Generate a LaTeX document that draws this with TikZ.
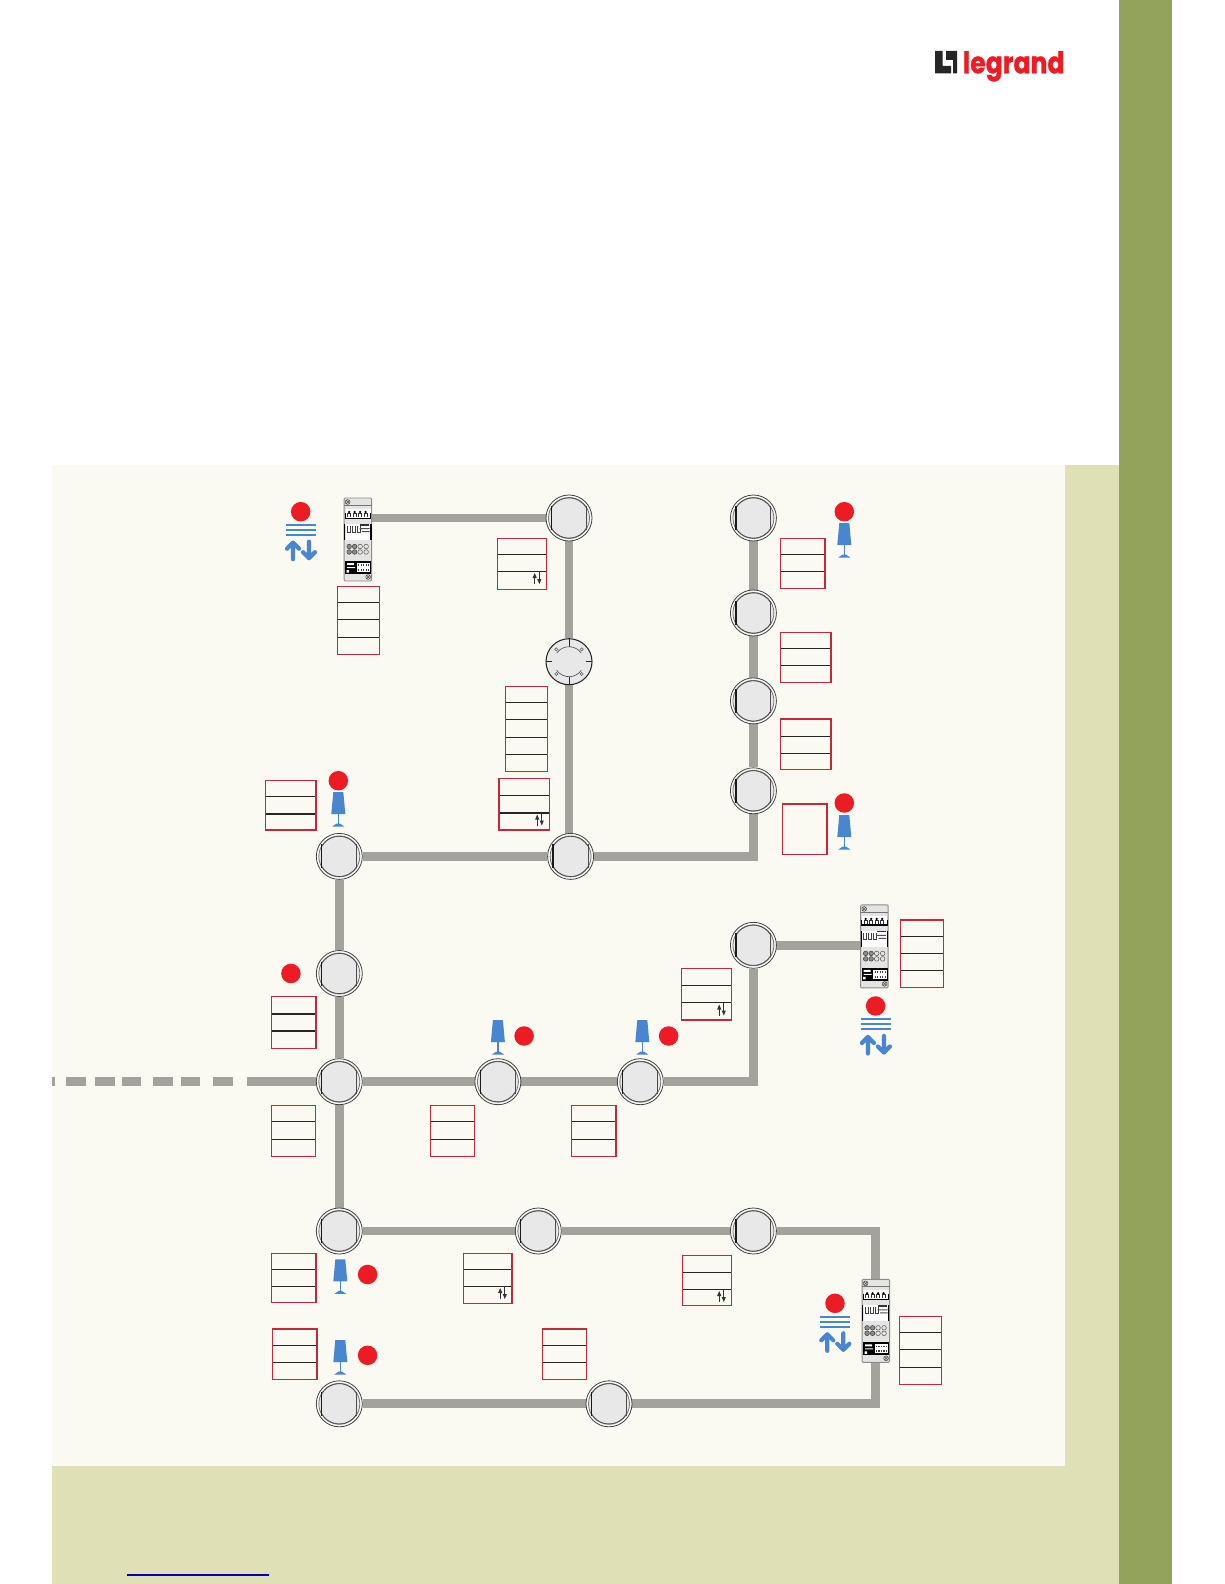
\documentclass[tikz,border=0pt]{standalone}
\usepackage{fontspec}
\newfontfamily\logofont[BoldFeatures={FakeBold=1.2}]{Poppins}
\usetikzlibrary{fit,backgrounds,arrows.meta}
\definecolor{cream}{HTML}{FAF9F2}
\definecolor{palegreen}{HTML}{DFE0B6}
\definecolor{darkgreen}{HTML}{93A35C}
\definecolor{wire}{HTML}{A3A29C}
\definecolor{reddot}{HTML}{ED1C24}
\definecolor{iconblue}{HTML}{4A86D0}
\definecolor{boxred}{HTML}{C4283A}
\definecolor{devfill}{HTML}{E4E4E2}
\definecolor{knob}{HTML}{E8E8E8}
\tikzset{
  x=0.02cm,y=-0.02cm,
  wireline/.style={draw=wire,line width=5.1pt,line join=miter},
  swnode/.style={circle,draw=none,inner sep=0pt,minimum size=0.92cm},
  devnode/.style={rectangle,draw=none,inner sep=0pt,minimum width=0.55cm,minimum height=1.66cm},
  redbox/.style={rectangle,draw=boxred,line width=0.7pt,inner sep=0pt},
  divider/.style={draw=black!85,line width=0.6pt},
  dotnode/.style={circle,fill=reddot,draw=none,inner sep=0pt,minimum size=0.39cm},
  thin line/.style={draw=black!75,line width=0.45pt},
  switchface/.pic={
    \fill[cream!60!white] (0,0) circle[radius=23];
    \draw[thin line] (0,0) circle[radius=23];
    \draw[black!55,fill=knob,line width=0.45pt] (0,0) circle[radius=20.5];
    \draw[black!70,line width=0.4pt] (-17.5,-10) arc[start angle=210,end angle=330,radius=20.2];
    \draw[black!70,line width=0.4pt] (-17.5,10) arc[start angle=150,end angle=30,radius=20.2];
    \draw[black!90,line width=0.7pt] (-17.5,-12) -- (-17.5,12);
    \draw[black!70,line width=0.5pt] (17.5,-12) -- (17.5,12);
  },
  rotaryface/.pic={
    \draw[black!85,fill=knob,line width=0.6pt] (0,0) circle[radius=23];
    \draw[black!85,line width=0.5pt] (0,-23) -- (0,-15) (0,23) -- (0,15) (-23,0) -- (-17,0) (23,0) -- (17,0);
    \draw[black!70,line width=0.35pt] (-12.3,-8.6) arc[start angle=215,end angle=325,radius=15];
    \draw[black!70,line width=0.35pt] (-12.3,8.6) arc[start angle=145,end angle=35,radius=15];
    \foreach \sx in {-1,1}\foreach \sy in {-1,1}
      \draw[black!60,line width=0.35pt] (12.7*\sx,12.3*\sy) circle[radius=1.6];
  },
  deviceface/.pic={
    \draw[black!45,fill=devfill,line width=0.5pt,rounded corners=0.6pt] (0,0) rectangle (27.5,83);
    \draw[black!55,line width=0.3pt] (0,7) -- (27.5,7);
    \draw[black!70,line width=0.3pt] (3.5,4) circle[radius=2.4] (1.8,2.3) -- (5.2,5.7) (1.8,5.7) -- (5.2,2.3);
    \draw[black!70,line width=0.3pt] (24,79) circle[radius=2.4] (22.3,77.3) -- (25.7,80.7) (22.3,80.7) -- (25.7,77.3);
    \fill[white] (1.5,11) rectangle (26.5,20);
    \fill[black] (0.5,19.5) rectangle (27,21);
    \draw[black,line width=0.5pt] (1,15) -- (1,21) (26.7,15) -- (26.7,21);
    \foreach \tx in {5,10.5,16,21.5}{
      \draw[black!80,line width=0.35pt] (\tx-1.6,19) -- (\tx-1.6,15) -- (\tx+1.6,15) -- (\tx+1.6,19);
      \fill[black] (\tx,14) circle[radius=1.3];
    }
    \fill[white] (1.5,26) rectangle (26.5,42);
    \draw[black,line width=0.7pt] (0.7,26) -- (0.7,42) (26.8,26) -- (26.8,42);
    \foreach \tx in {3,8,13}
      \draw[black!75,line width=0.35pt] (\tx,28) -- (\tx,34) -- (\tx+3,34) -- (\tx+3,28);
    \fill[black!80] (16,26) rectangle (25,27.5);
    \fill[black!70] (15.5,30) rectangle (25.5,31) (18,33) rectangle (25.5,34);
    \foreach \cy in {48.5,54}{
      \foreach \tx in {5,10.5}{
        \draw[black!75,fill=black!45,line width=0.3pt] (\tx,\cy) circle[radius=2.3];
      }
      \foreach \tx in {16,22}{
        \draw[black!65,line width=0.3pt] (\tx,\cy) circle[radius=2.3];
      }
    }
    \fill[black] (1,63) rectangle (27,76);
    \fill[white] (12.5,65) rectangle (26,74);
    \foreach \tx in {14.5,17,19.5,22,24.5}{
      \fill[black!75] (\tx-0.6,66.2) rectangle (\tx+0.6,68);
      \fill[black!75] (\tx-0.6,71) rectangle (\tx+0.6,72.8);
    }
    \fill[white] (3,65) rectangle (10,67) (3,69) rectangle (11,70) (2.5,72) rectangle (5,74.5);
  },
  lampicon/.pic={
    \fill[iconblue] (-5,0) -- (5,0) -- (7,22) -- (-7,22) -- cycle;
    \draw[iconblue,line width=0.9pt] (0,22) -- (0,33);
    \fill[iconblue] (-1.5,31.5) -- (1.5,31.5) -- (6,34.5) -- (-6,34.5) -- cycle;
  },
  blindicon/.pic={
    \draw[iconblue,line width=1.1pt] (-15,13.3) -- (15,13.3) (-15,18.3) -- (15,18.3) (-15,23.3) -- (15,23.3);
    \draw[iconblue,line width=2.4pt,line cap=round,line join=round]
      (-7.7,47.5) -- (-7.7,31) (-13.7,37) -- (-7.7,31) -- (-1.7,37);
    \draw[iconblue,line width=2.4pt,line cap=round,line join=round]
      (8.3,30) -- (8.3,46.5) (2.3,40.5) -- (8.3,46.5) -- (14.3,40.5);
  },
  updown/.pic={
    \draw[black!80,line width=0.4pt] (-2.3,-1) -- (-2.3,6);
    \fill[black!80] (-2.3,-5) -- (-4.4,0) -- (-0.2,0) -- cycle;
    \draw[black!80,line width=0.4pt] (2.3,-6.5) -- (2.3,1);
    \fill[black!80] (2.3,6) -- (0.2,1) -- (4.4,1) -- cycle;
  },
}
% name, x1,y1,x2,y2, divider y list
\newcommand{\rbox}[6]{%
  \foreach \dy in {#6}{\draw[divider] (#2,\dy) -- (#4,\dy);}
  \node[redbox,fit={(#2,#3) (#4,#5)}] (#1) {};
}
\newcommand{\plainbox}[5]{\node[redbox,fit={(#2,#3) (#4,#5)}] (#1) {};}
\begin{document}
\begin{tikzpicture}
\useasboundingbox (0,0) rectangle (1224,1584);
% panels
\begin{scope}[on background layer]
  \fill[white] (0,0) rectangle (1224,1584);
  \fill[darkgreen] (1119,0) rectangle (1172,1584);
  \fill[palegreen] (52,465) rectangle (1119,1584);
  \fill[cream] (52,465) rectangle (1065,1466);
\end{scope}
% logo
\fill[black!85] (935,51) -- (942.5,51) -- (942.5,66) -- (951,66) -- (951,73.3) -- (935,73.3) -- cycle;
\fill[black!85] (946,51) -- (957,51) -- (957,73.3) -- (953,73.3) -- (953,60) -- (946,60) -- cycle;
\node[inner sep=0pt,anchor=base west,text=reddot] (logotext) at (962.5,73.3)
  {\scalebox{0.84}[1]{\logofont\bfseries\fontsize{17}{17}\selectfont legrand}};
% switches
\foreach \n/\px/\py in {A/569/518,C/570.6/856.4,D/339.3/856.4,E/339.3/973.5,F/339.3/1081.7,
   G/339.3/1231,H/538.3/1231,I/753.4/1231,J/339.3/1403.8,K/609/1403.8,L/497.9/1081.7,
   M/640.3/1081.7,N/753.4/945.3,O/753.4/518,P/753.4/613,Q/753.4/700.9,R/753.4/790.8}{
  \node[swnode] (\n) at (\px,\py) {};
  \pic at (\n.center) {switchface};
}
\node[swnode] (B) at (569,661.7) {};
\pic at (B.center) {rotaryface};
% devices
\node[devnode] (dev1) at (357.9,539.5) {};
\node[devnode] (dev2) at (874.4,946.4) {};
\node[devnode] (dev3) at (875.8,1320.8) {};
\pic at ([shift={(-13.75,-41.5)}]dev1.center) {deviceface};
\pic at ([shift={(-13.75,-41.5)}]dev2.center) {deviceface};
\pic at ([shift={(-13.75,-41.5)}]dev3.center) {deviceface};
% wires
\coordinate (dashstart) at (52,1081.7);
\coordinate (dashend) at (234,1081.7);
\coordinate (solidend) at (247,1081.7);
\begin{scope}[on background layer]
  \draw[wireline] (A.center) -- (A.center -| dev1.east);
  \draw[wireline] (A) -- (B);
  \draw[wireline] (B.center) -- (B.center |- C.center);
  \draw[wireline] (C) -- (D);
  \draw[wireline] (C) -| (R);
  \draw[wireline] (O) -- (P);
  \draw[wireline] (P) -- (Q);
  \draw[wireline] (Q) -- (R);
  \draw[wireline] (D) -- (E);
  \draw[wireline] (E) -- (F);
  \draw[wireline] (F) -- (G);
  \draw[wireline] (F) -- (L);
  \draw[wireline] (L) -- (M);
  \draw[wireline] (M) -| (N);
  \draw[wireline] (N.center) -- (N.center -| dev2.west);
  \draw[wireline] (G) -- (H);
  \draw[wireline] (H) -- (I);
  \draw[wireline] (I) -| (dev3.north);
  \draw[wireline] (dev3.south) |- (K);
  \draw[wireline] (K) -- (J);
  \draw[wireline] (F) -- (solidend);
  \draw[draw=wire,line width=5.1pt,dash pattern=on 1.7pt off 6.2pt on 11.3pt off 5.1pt on 11.3pt off 4pt on 11.3pt off 6.8pt on 11.3pt off 4.5pt on 10.8pt off 7.4pt on 11.3pt off 20pt] (dashstart) -- (dashend);
\end{scope}
% red boxes
\rbox{b1}{337.3}{586.3}{379.3}{654.3}{602.3,619.3,637.3}
\rbox{b2}{497.3}{538.7}{546.3}{589.3}{554.3,571.3}
\rbox{b3}{505.3}{686.3}{547.3}{771.6}{702.3,719.3,737.3,754.4}
\rbox{b4}{499}{778.6}{549.4}{830}{795.8,813}
\rbox{b5}{265.6}{780.7}{316}{830}{796.8,814}
\rbox{b6}{780.7}{538.3}{825}{588.8}{554.4,571.6}
\rbox{b7}{780.7}{632.2}{831}{682.7}{648.4,665.5}
\rbox{b8}{780.7}{719}{831}{769.6}{736.2,753.4}
\plainbox{b9}{782.7}{804}{827}{854.4}
\rbox{b10}{900.8}{920}{943.3}{987.7}{936.2,953.3,970.5}
\rbox{b11}{681.7}{968.5}{731.2}{1020}{985.7,1002.8}
\rbox{b12}{271.7}{996.8}{316}{1048.3}{1014,1031}
\rbox{b13}{271.3}{1105.3}{315.3}{1156.3}{1121.3,1139.3}
\rbox{b14}{430.2}{1105.3}{474.7}{1156.3}{1121.3,1139.3}
\rbox{b15}{571.6}{1105.3}{616}{1156.3}{1121.3,1139.3}
\rbox{b16}{271.7}{1253.3}{316}{1302.8}{1269.5,1286.6}
\rbox{b17}{463.5}{1253.3}{512}{1303.8}{1269.5,1286.6}
\rbox{b18}{682.7}{1255.3}{731.2}{1305.8}{1272.4,1289.6}
\rbox{b19}{272.7}{1329}{317}{1379.5}{1345.2,1362.4}
\rbox{b20}{542.3}{1329}{586.8}{1379.5}{1345.2,1362.4}
\rbox{b21}{899.3}{1316.3}{941.7}{1384.3}{1332.3,1349.3,1367.3}
% up/down marks
\pic at (537,578) {updown};
\pic at (539.5,819.5) {updown};
\pic at (721.5,1009.5) {updown};
\pic at (502.5,1293) {updown};
\pic at (721.5,1296) {updown};
% red dots and icons
\node[dotnode] (d1) at (300.7,511.7) {};
\pic at (d1.center) {blindicon};
\node[dotnode] (d2) at (844.3,511.7) {};
\pic at (844.3,523) {lampicon};
\node[dotnode] (d3) at (844.3,803) {};
\pic at (844.3,815) {lampicon};
\node[dotnode] (d4) at (338.3,780.7) {};
\pic at (338.3,792) {lampicon};
\node[dotnode] (d5) at (290.9,973.5) {};
\node[dotnode] (d6) at (524.1,1036) {};
\pic at (497.9,1020) {lampicon};
\node[dotnode] (d7) at (668.6,1036) {};
\pic at (642.3,1020) {lampicon};
\node[dotnode] (d8) at (367.6,1274.5) {};
\pic at (340.3,1259.4) {lampicon};
\node[dotnode] (d9) at (367.6,1355.3) {};
\pic at (340.3,1340) {lampicon};
\node[dotnode] (d10) at (875.6,1006) {};
\pic at (d10.center) {blindicon};
\node[dotnode] (d11) at (835,1303.3) {};
\pic at (d11.center) {blindicon};
% link underline
\draw[blue!75!black,line width=0.6pt] (127,1575) -- (269,1575);
\end{tikzpicture}
\end{document}
